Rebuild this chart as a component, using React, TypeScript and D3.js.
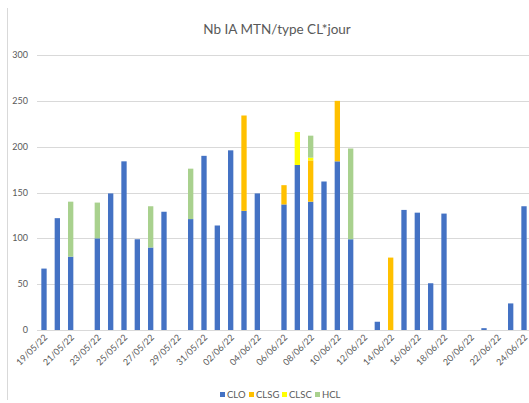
import React from "react";
import * as d3 from "d3";

const dates = [
  "19/05/22","20/05/22","21/05/22","22/05/22","23/05/22","24/05/22","25/05/22","26/05/22","27/05/22","28/05/22",
  "29/05/22","30/05/22","31/05/22","01/06/22","02/06/22","03/06/22","04/06/22","05/06/22","06/06/22","07/06/22",
  "08/06/22","09/06/22","10/06/22","11/06/22","12/06/22","13/06/22","14/06/22","15/06/22","16/06/22","17/06/22",
  "18/06/22","19/06/22","20/06/22","21/06/22","22/06/22","23/06/22","24/06/22",
];
const CLO = [67,122,80,0,100,149,184,99,90,129,0,121,190,114,196,130,149,0,137,180,140,162,184,99,0,9,0,131,128,51,127,0,0,2,0,29,135];
const CLSG = [0,0,0,0,0,0,0,0,0,0,0,0,0,0,0,104,0,0,21,0,45,0,66,0,0,0,79,0,0,0,0,0,0,0,0,0,0];
const CLSC = [0,0,0,0,0,0,0,0,0,0,0,0,0,0,0,0,0,0,0,36,3,0,0,0,0,0,0,0,0,0,0,0,0,0,0,0,0];
const HCL = [0,0,60,0,39,0,0,0,45,0,0,55,0,0,0,0,0,0,0,0,24,0,0,99,0,0,0,0,0,0,0,0,0,0,0,0,0];
const seriesNames = ["CLO", "CLSG", "CLSC", "HCL"];
const colors = ["#4472C4", "#FFC000", "#FFFF00", "#A9D18E"];
const yTicks = [0, 50, 100, 150, 200, 250, 300];
const title = "Nb IA MTN/type CL*jour";

export default function App() {
  const W = 529, H = 403;
  const rows = dates.map((d, i) => ({ date: d, CLO: CLO[i], CLSG: CLSG[i], CLSC: CLSC[i], HCL: HCL[i] }));
  const stacked = d3.stack<any>().keys(seriesNames)(rows);
  const x = d3.scaleBand<string>().domain(dates).range([37.33, 530.67]).paddingInner(0.6).paddingOuter(0.3);
  const y = d3.scaleLinear().domain([0, 300]).range([330, 55]);
  const font = "Lato, 'Open Sans', sans-serif";
  const legendX = [220, 249, 282, 315];
  return (
    <svg width={W} height={H} style={{ position: "absolute", left: 0, top: 0, background: "#fff" }} fontFamily={font}>
      <rect x={0} y={0} width={W} height={H} fill="#fff" />
      <line x1={7.5} x2={7.5} y1={8} y2={400} stroke="#d9d9d9" strokeWidth={1} />
      <text x={277} y={34} textAnchor="middle" fontSize={13.5} fill="#595959">{title}</text>
      {yTicks.map((t) => (
        <g key={t}>
          <line x1={37} x2={W} y1={Math.round(y(t)) + 0.5} y2={Math.round(y(t)) + 0.5} stroke="#d9d9d9" strokeWidth={1} />
          <text x={28} y={y(t)} dy="0.35em" textAnchor="end" fontSize={9} fill="#595959">{t}</text>
        </g>
      ))}
      {stacked.map((s, si) => (
        <g key={s.key} fill={colors[si]}>
          {s.map((d, i) => (d[1] - d[0] > 0 ? (
            <rect key={i} x={x(dates[i])!} width={x.bandwidth()} y={y(d[1])} height={y(d[0]) - y(d[1])} />
          ) : null))}
        </g>
      ))}
      {dates.map((d, i) => (i % 2 === 0 ? (
        <text key={d} transform={`translate(${x(d)! + x.bandwidth() / 2 + 4},${338}) rotate(-45)`} textAnchor="end" fontSize={9} fill="#595959">{d}</text>
      ) : null))}
      {seriesNames.map((n, i) => (
        <g key={n}>
          <rect x={legendX[i]} y={392} width={5} height={5} fill={colors[i]} />
          <text x={legendX[i] + 7} y={395} dy="0.35em" fontSize={9.5} fill="#595959">{n}</text>
        </g>
      ))}
    </svg>
  );
}
